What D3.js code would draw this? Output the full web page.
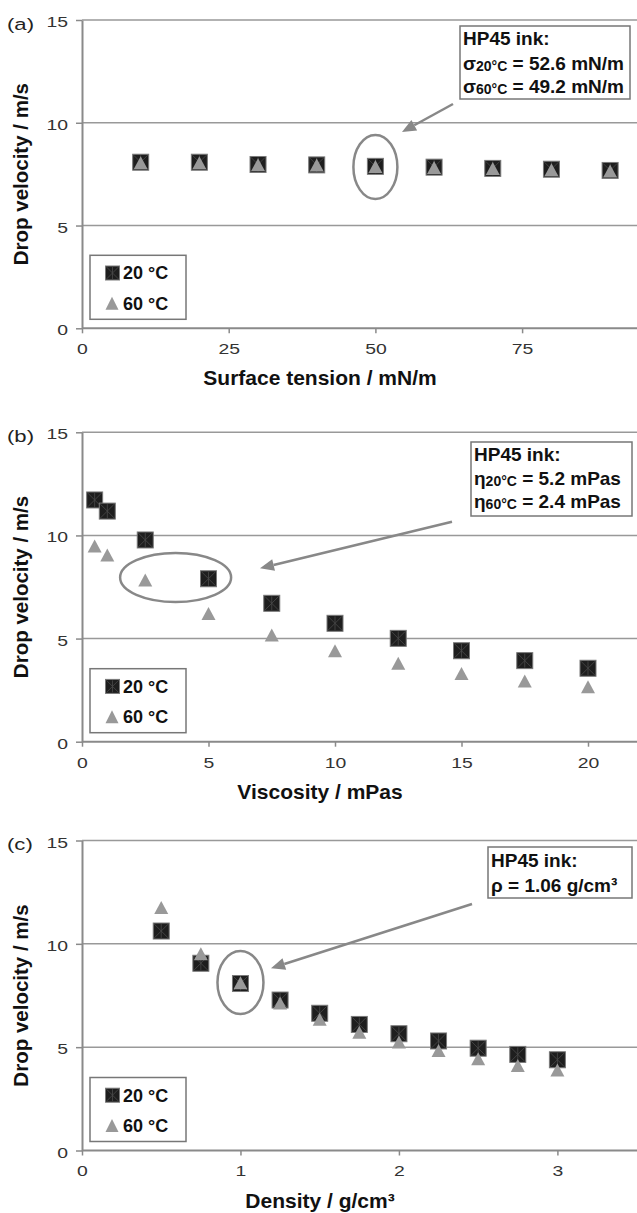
<!DOCTYPE html>
<html>
<head>
<meta charset="utf-8">
<script src="https://cdn.jsdelivr.net/npm/d3@7"></script>
<style>
body { margin: 0; background: #fff; }
text { font-family: "Liberation Sans", Arial, sans-serif; }
</style>
</head>
<body>
<svg id="chart"></svg>
<script>
// values
var yTicks = [0, 5, 10, 15];
var seriesNames = ["20 °C", "60 °C"];

var tensionX  = [10, 20, 30, 40, 50, 60, 70, 80, 90];
var tension20 = [8.08, 8.08, 7.97, 7.95, 7.88, 7.84, 7.78, 7.74, 7.68];
var tension60 = [8.05, 8.05, 7.96, 7.94, 7.87, 7.82, 7.77, 7.72, 7.65];
var tensionTicks = [0, 25, 50, 75];

var viscX  = [0.5, 1, 2.5, 5, 7.5, 10, 12.5, 15, 17.5, 20];
var visc20 = [11.72, 11.18, 9.78, 7.9, 6.71, 5.74, 5.01, 4.41, 3.93, 3.56];
var visc60 = [9.49, 9.05, 7.84, 6.22, 5.17, 4.41, 3.8, 3.31, 2.94, 2.67];
var viscTicks = [0, 5, 10, 15, 20];

var densX  = [0.5, 0.75, 1, 1.25, 1.5, 1.75, 2, 2.25, 2.5, 2.75, 3];
var dens20 = [10.62, 9.06, 8.08, 7.28, 6.64, 6.1, 5.65, 5.3, 4.95, 4.65, 4.39];
var dens60 = [11.76, 9.52, 8.12, 7.14, 6.35, 5.72, 5.25, 4.84, 4.44, 4.11, 3.9];
var densTicks = [0, 1, 2, 3];

// annotation text: [text, isSubscript]
var noteA = [[["HP45 ink:", 0]],
             [["σ", 0], ["20°C", 1], [" = 52.6 mN/m", 0]],
             [["σ", 0], ["60°C", 1], [" = 49.2 mN/m", 0]]];
var noteB = [[["HP45 ink:", 0]],
             [["η", 0], ["20°C", 1], [" = 5.2 mPas", 0]],
             [["η", 0], ["60°C", 1], [" = 2.4 mPas", 0]]];
var noteC = [[["HP45 ink:", 0]],
             [["ρ = 1.06 g/cm³", 0]]];

var W = 637, H = 1213;
var svg = d3.select("#chart").attr("width", W).attr("height", H);

var panels = [
  { label: "(a)", top: 20, bottom: 328.3, xMax: 100, xEnd: 668.8, ticks: tensionTicks,
    title: "Surface tension / mN/m", xs: tensionX, s20: tension20, s60: tension60,
    ell: { cx: 50, cy: 7.85, rx: 22, ry: 32 },
    arrow: [453, 104, 402, 132],
    box: { x: 460, y: 26, w: 170, h: 73, base: [45, 70, 93], lines: noteA } },
  { label: "(b)", top: 432.3, bottom: 741.7, xMax: 20, xEnd: 588, ticks: viscTicks,
    title: "Viscosity / mPas", xs: viscX, s20: visc20, s60: visc60,
    ell: { cx: 3.7, cy: 7.96, rx: 55.5, ry: 24.5 },
    arrow: [452, 521.7, 260, 568.3],
    box: { x: 471, y: 442, w: 161, h: 74, base: [461, 485, 508], lines: noteB } },
  { label: "(c)", top: 840.5, bottom: 1150.5, xMax: 3, xEnd: 557.4, ticks: densTicks,
    title: "Density / g/cm³", xs: densX, s20: dens20, s60: dens60,
    ell: { cx: 1.0, cy: 8.13, rx: 23, ry: 31.5 },
    arrow: [472, 904, 271, 968.3],
    box: { x: 488, y: 847, w: 144, h: 51, base: [866.7, 891.7], lines: noteC } }
];

var left = 82;
var gridColor = "#999";
var lineGray = "#8a8a8a";
var stretch = 1.25;   // the regular text in the figure is drawn wide

function drawSquare(g, cx, cy, s) {
  g.append("rect")
    .attr("x", cx - s / 2).attr("y", cy - s / 2)
    .attr("width", s).attr("height", s)
    .style("fill", "#1e1e1e")
    .style("stroke", "#7a7a7a")
    .style("stroke-width", 1);
  g.append("path")
    .attr("d", "M" + (cx - s / 2 + 1) + "," + (cy - s / 2 + 1) + "L" + (cx + s / 2 - 1) + "," + (cy + s / 2 - 1) +
               "M" + (cx + s / 2 - 1) + "," + (cy - s / 2 + 1) + "L" + (cx - s / 2 + 1) + "," + (cy + s / 2 - 1) +
               "M" + cx + "," + (cy - s / 2 + 1) + "L" + cx + "," + (cy + s / 2 - 1))
    .style("stroke", "#4a4a4a")
    .style("stroke-width", 0.8);
}

function drawTriangle(g, cx, cy, w, h) {
  g.append("path")
    .attr("d", "M" + cx + "," + (cy - h / 2) + "L" + (cx + w / 2) + "," + (cy + h / 2) +
               "L" + (cx - w / 2) + "," + (cy + h / 2) + "Z")
    .style("fill", "#999");
}

panels.forEach(function (p) {
  var g = svg.append("g");
  var x = d3.scaleLinear().domain([0, p.xMax]).range([left, p.xEnd]);
  var y = d3.scaleLinear().domain([0, 15]).range([p.bottom, p.top]);

  // gridlines
  g.selectAll(".grid").data(yTicks.slice(1)).enter().append("line")
    .attr("x1", left).attr("x2", W)
    .attr("y1", function (d) { return y(d); })
    .attr("y2", function (d) { return y(d); })
    .style("stroke", gridColor).style("stroke-width", 1.5);

  // x axis line
  g.append("line")
    .attr("x1", left).attr("x2", W)
    .attr("y1", p.bottom).attr("y2", p.bottom)
    .style("stroke", lineGray).style("stroke-width", 2);

  // y axis
  var yAxis = g.append("g").attr("transform", "translate(" + left + ",0)")
    .call(d3.axisLeft(y).tickValues(yTicks).tickSize(6).tickPadding(8).tickSizeOuter(0));
  yAxis.select(".domain").style("stroke", lineGray).style("stroke-width", 2);
  yAxis.selectAll(".tick line").style("stroke", lineGray).style("stroke-width", 1.5);
  yAxis.selectAll(".tick text")
    .attr("x", -14 / stretch).attr("dy", "0.42em")
    .attr("transform", "scale(" + stretch + ",1)")
    .style("font-size", "15.5px").style("fill", "#333")
    .style("font-family", "'Liberation Sans', Arial, sans-serif");

  // x axis ticks
  var xAxis = g.append("g").attr("transform", "translate(0," + p.bottom + ")")
    .call(d3.axisBottom(x).tickValues(p.ticks).tickSize(5).tickPadding(10).tickFormat(d3.format("d")));
  xAxis.select(".domain").remove();
  xAxis.selectAll(".tick line").style("stroke", lineGray).style("stroke-width", 1.5);
  xAxis.selectAll(".tick text")
    .attr("transform", "scale(" + stretch + ",1)")
    .style("font-size", "15.5px").style("fill", "#333")
    .style("font-family", "'Liberation Sans', Arial, sans-serif");

  // panel label
  g.append("text")
    .attr("transform", "translate(7," + (p.top + 9.5) + ") scale(1.3,1)")
    .style("font-size", "17px").style("fill", "#222").text(p.label);

  // axis titles
  g.append("text")
    .attr("transform", "translate(28," + ((p.top + p.bottom) / 2) + ") rotate(-90)")
    .attr("text-anchor", "middle")
    .style("font-size", "20.5px").style("font-weight", "bold").style("fill", "#111")
    .text("Drop velocity / m/s");
  g.append("text")
    .attr("x", 320).attr("y", p.bottom + 57)
    .attr("text-anchor", "middle")
    .style("font-size", "21px").style("font-weight", "bold").style("fill", "#111")
    .text(p.title);

  // markers: squares first, triangles on top
  p.xs.forEach(function (xv, i) { drawSquare(g, x(xv), y(p.s20[i]), 16); });
  p.xs.forEach(function (xv, i) { drawTriangle(g, x(xv), y(p.s60[i]), 14, 13); });

  // highlight ellipse
  g.append("ellipse")
    .attr("cx", x(p.ell.cx)).attr("cy", y(p.ell.cy))
    .attr("rx", p.ell.rx).attr("ry", p.ell.ry)
    .style("fill", "none").style("stroke", "#888").style("stroke-width", 2.5);

  // arrow
  var a = p.arrow;
  var ang = Math.atan2(a[3] - a[1], a[2] - a[0]);
  var hl = 14, hw = 6;
  var bx = a[2] - hl * Math.cos(ang), by = a[3] - hl * Math.sin(ang);
  g.append("line")
    .attr("x1", a[0]).attr("y1", a[1]).attr("x2", bx).attr("y2", by)
    .style("stroke", "#888").style("stroke-width", 2.5);
  g.append("path")
    .attr("d", "M" + a[2] + "," + a[3] +
      "L" + (bx - hw * Math.sin(ang)) + "," + (by + hw * Math.cos(ang)) +
      "L" + (bx + hw * Math.sin(ang)) + "," + (by - hw * Math.cos(ang)) + "Z")
    .style("fill", "#888");

  // annotation box
  var b = p.box;
  g.append("rect").attr("x", b.x).attr("y", b.y).attr("width", b.w).attr("height", b.h)
    .style("fill", "#fff").style("stroke", "#777").style("stroke-width", 1.5);
  b.lines.forEach(function (segs, i) {
    var t = g.append("text").attr("x", b.x + 3).attr("y", b.base[i])
      .style("font-size", "19px").style("font-weight", "bold").style("fill", "#111");
    segs.forEach(function (s) {
      var ts = t.append("tspan").text(s[0]);
      if (s[1]) ts.style("font-size", "14px").attr("dy", 1);
      else if (t.selectAll("tspan").size() > 1) ts.attr("dy", -1);
    });
  });

  // legend
  var lg = g.append("g");
  lg.append("rect").attr("x", 90).attr("y", p.bottom - 73).attr("width", 96).attr("height", 64)
    .style("fill", "#fff").style("stroke", "#777").style("stroke-width", 1.5);
  drawSquare(lg, 112.5, p.bottom - 55.3, 14);
  drawTriangle(lg, 112, p.bottom - 25, 13, 13);
  seriesNames.forEach(function (n, i) {
    lg.append("text").attr("x", 123).attr("y", p.bottom - 49 + i * 30.5)
      .style("font-size", "18px").style("font-weight", "bold").style("fill", "#111")
      .text(n);
  });
});
</script>
</body>
</html>
